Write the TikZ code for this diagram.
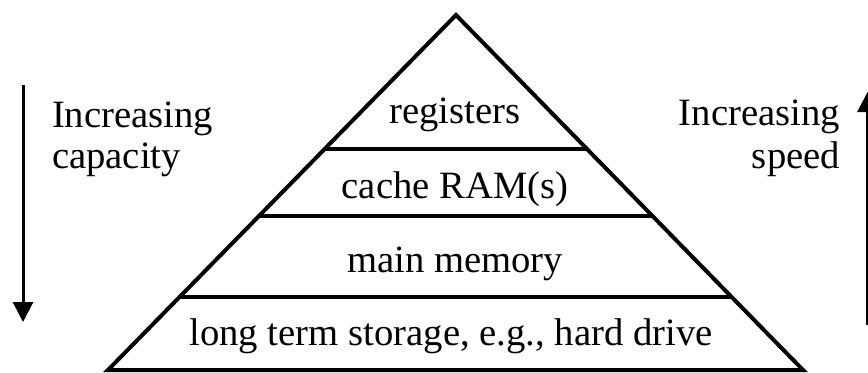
\documentclass[tikz,border=0pt]{standalone}
\usepackage{fontspec}
\setmainfont{Liberation Serif}
\usetikzlibrary{arrows.meta}

\tikzset{every picture/.style={line width=3pt}}
\tikzset{
  level label/.style={font=\fontsize{29}{32}\selectfont, anchor=base, inner sep=0pt},
  side label/.style={font=\fontsize{29}{32}\selectfont, inner sep=0pt},
  trend arrow/.style={line width=2.25pt, -{Triangle[width=15pt,length=15pt]}}
}

\begin{document}
\begin{tikzpicture}[x=0.75pt,y=0.75pt,yscale=-1,xscale=1]
\clip (0,0) rectangle (868,372);
\path[fill=white] (0,0) rectangle (868,372);

%Shape: Triangle [id:pyramid]
\draw  (456,15) -- (803,370) -- (108,370) -- cycle ;

%Straight Lines [id:regline]
\draw    (324.6,149) -- (587,149) ;
%Straight Lines [id:cacheline]
\draw    (259,216) -- (652.5,216) ;
%Straight Lines [id:mainline]
\draw    (179.6,297) -- (731.6,297) ;

% Text Node
\node [level label] (registers) at (455,123) {registers};
% Text Node
\node [level label] (cache) at (455,198) {cache RAM(s)};
% Text Node
\node [level label] (mainmem) at (455,272) {main memory};
% Text Node
\node [level label] (storage) at (451,345) {long term storage, e.g., hard drive};

% Text Node
\node [side label, anchor=base west] (incCap) at (50,127) {Increasing};
\node [side label, anchor=base west] (capacity) at (50,168) {capacity};
% Text Node
\node [side label, anchor=base east] (incSpd) at (842,125) {Increasing};
\node [side label, anchor=base east] (speed) at (842,168) {speed};

%Arrows
\coordinate (capTop) at (23,85);
\coordinate (capEnd) at (23,322);
\draw [trend arrow] (capTop) -- (capEnd) ;
\coordinate (spdBot) at (867.5,325);
\coordinate (spdEnd) at (867.5,92);
\draw [trend arrow] (spdBot) -- (spdEnd) ;

\end{tikzpicture}
\end{document}
